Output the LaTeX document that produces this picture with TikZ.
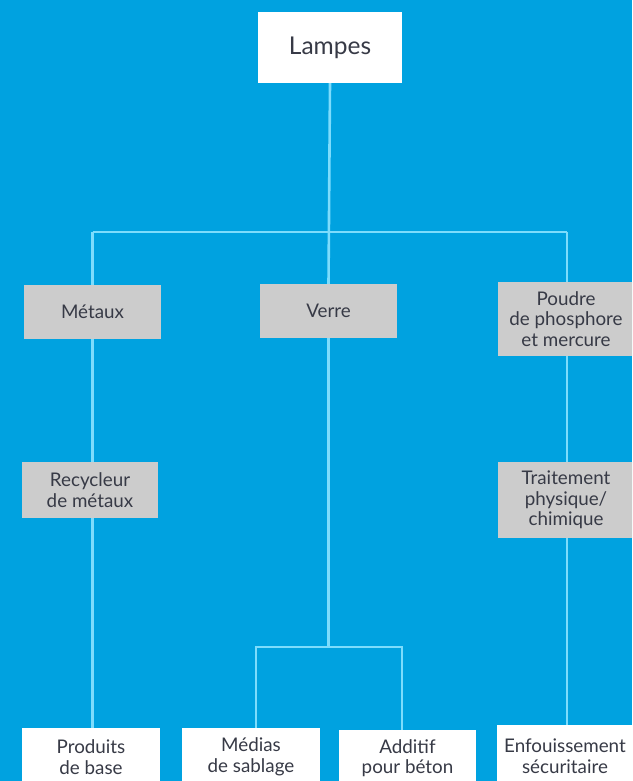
\documentclass[tikz,border=0pt]{standalone}
\usepackage{fontspec}
\setmainfont{Lato}
\definecolor{bg}{RGB}{0,162,224}
\definecolor{boxgray}{RGB}{204,204,204}
\definecolor{txt}{RGB}{55,58,70}
\definecolor{link}{RGB}{125,220,252}
\begin{document}
\begin{tikzpicture}[x=1pt,y=-1pt,
  base/.style={text=txt, align=center, inner sep=0pt, font=\fontsize{18.8}{20.5}\selectfont},
  graybox/.style={base, fill=boxgray},
  whitebox/.style={base, fill=white},
  link/.style={draw=link, line width=2.6pt}]
\fill[bg] (0,0) rectangle (632,781);
\useasboundingbox (0,0) rectangle (632,781);
\clip (0,0) rectangle (632,781);
% top
\node[whitebox, minimum width=144pt, minimum height=71pt, font=\fontsize{24.5}{28}\selectfont] (lampes) at (330,47.5) {Lampes};
% level 1
\node[graybox, minimum width=137pt, minimum height=54pt] (metaux) at (92.5,312) {Métaux};
\node[graybox, minimum width=137pt, minimum height=54pt] (verre) at (328.5,311) {Verre};
\node[graybox, minimum width=136pt, minimum height=74pt] (poudre) at (566,319) {Poudre\\de phosphore\\et mercure};
% level 2
\node[graybox, minimum width=136pt, minimum height=56pt] (recy) at (90,490) {Recycleur\\de métaux};
\node[graybox, minimum width=136pt, minimum height=76pt] (trait) at (566,500) {Traitement\\physique/\\chimique};
% bottom
\node[whitebox, minimum width=138pt, minimum height=58pt] (prod) at (91,757) {Produits\\de base};
\node[whitebox, minimum width=138pt, minimum height=58pt] (medias) at (251,757) {Médias\\de sablage};
\node[whitebox, minimum width=137pt, minimum height=56pt] (additif) at (407.5,758) {Additif\\pour béton};
\node[whitebox, minimum width=136pt, minimum height=62pt] (enfou) at (565,756) {Enfouissement\\sécuritaire};
% junctions
\coordinate (j1) at (328.5,232);
\coordinate (jl) at (92.5,232);
\coordinate (jr) at (567,232);
\coordinate (j2) at (328.5,647);
\coordinate (jm) at (256,647);
\coordinate (ja) at (402,647);
% connectors
\draw[link] (lampes.south) -- (verre.north);
\draw[link] (jl) -- (jr);
\draw[link] (jl) -- (jl |- metaux.north);
\draw[link] (jr) -- (jr |- poudre.north);
\draw[link] (metaux.south) -- (metaux.south |- recy.north);
\draw[link] (metaux.south |- recy.south) -- (metaux.south |- prod.north);
\draw[link] (jr |- poudre.south) -- (jr |- trait.north);
\draw[link] (jr |- trait.south) -- (jr |- enfou.north);
\draw[link] (verre.south) -- (j2);
\draw[link] (jm |- medias.north) -- (jm) -- (ja) -- (ja |- additif.north);
\end{tikzpicture}
\end{document}
